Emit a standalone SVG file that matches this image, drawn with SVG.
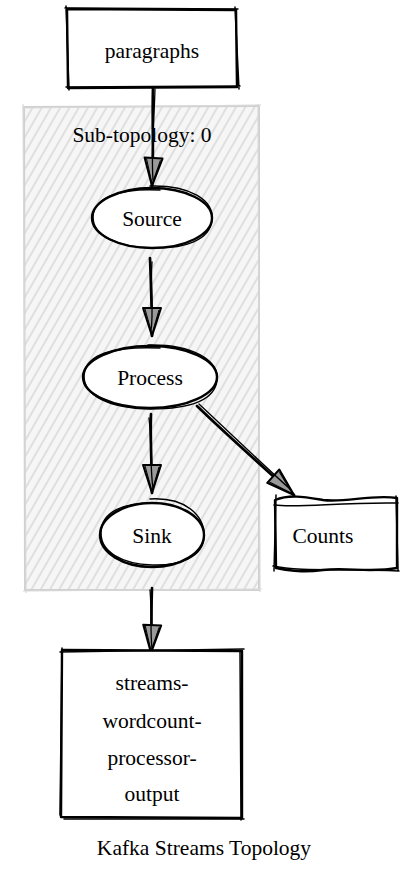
<svg xmlns="http://www.w3.org/2000/svg" width="408" height="881" viewBox="0 0 408 881">
<style>
text{font-family:"Liberation Serif","Times New Roman","DejaVu Serif",serif;font-size:21.5px;fill:#000;text-anchor:middle}
.n{fill:#fff;stroke:#000;stroke-width:2.4;stroke-linejoin:round;stroke-linecap:round}
.n2{fill:none;stroke:#000;stroke-width:1.5;stroke-linecap:round}
.e{fill:none;stroke:#000;stroke-width:2.7;stroke-linecap:round}
.e2{fill:none;stroke:#000;stroke-width:1.3;stroke-linecap:round}
.cl{fill:url(#hatch);stroke:#d0d0d0;stroke-width:2}
.cl2{fill:none;stroke:#d8d8d8;stroke-width:1.2}
</style>
<defs>
<pattern id="hatch" width="8" height="8" patternUnits="userSpaceOnUse" patternTransform="rotate(30)">
<rect width="8" height="8" fill="#f6f6f6"/>
<line x1="2" y1="0" x2="2" y2="8" stroke="#d6d6d6" stroke-width="1.4"/>
</pattern>
<marker id="arr" markerUnits="userSpaceOnUse" markerWidth="32" markerHeight="22" refX="29" refY="11" orient="auto" overflow="visible">
<path d="M1,2 L29,11 L1,20 Z" fill="#9a9a9a" stroke="#000" stroke-width="2" stroke-linejoin="round"/>
<path d="M3,4 L27,11 L2,18" fill="none" stroke="#000" stroke-width="1"/>
</marker>
</defs>
<g id="cluster_0">
<path class="cl" d="M24,107 L259,106 L259,590 L25,590 Z"/>
<path class="cl2" d="M22,108 L261,105 M258,104 L260,592 M262,589 L23,591 M26,593 L23,104"/>
<text x="142" y="142">Sub-topology: 0</text>
</g>
<g id="edges">
<path class="e" d="M153,88 C152,120 154,150 152,186" marker-end="url(#arr)"/>
<path class="e2" d="M155,89 C154,125 151,152 153,180"/>
<path class="e" d="M150,258 C151,285 152,310 152,336" marker-end="url(#arr)"/>
<path class="e2" d="M152,262 C150,290 154,312 151,330"/>
<path class="e" d="M151,414 C150,440 152,466 152,493" marker-end="url(#arr)"/>
<path class="e2" d="M149,418 C152,445 150,470 153,488"/>
<path class="e" d="M197,406 C228,436 262,466 294,495" marker-end="url(#arr)"/>
<path class="e2" d="M199,404 C230,433 258,460 290,489"/>
<path class="e" d="M152,588 C151,610 152,630 151,653" marker-end="url(#arr)"/>
<path class="e2" d="M150,590 C152,612 150,632 152,648"/>
</g>
<g id="paragraphs">
<path class="n" d="M67,9 L236,10 L237,87 L68,88 Z"/>
<path class="n2" d="M65,8 L238,9 M235,7 L239,89 M240,86 L66,87 M69,90 L66,6"/>
<text x="152" y="58">paragraphs</text>
</g>
<g id="source">
<ellipse class="n" cx="152" cy="218" rx="60" ry="30"/>
<path class="n2" d="M150,186 C190,185 214,200 212,220 C210,240 185,249 152,248 C118,247 92,236 93,216 C95,195 125,188 160,190"/>
<text x="152" y="226">Source</text>
</g>
<g id="process">
<ellipse class="n" cx="150" cy="377" rx="67" ry="31"/>
<path class="n2" d="M148,345 C192,344 219,360 217,380 C215,400 190,409 150,409 C110,408 83,396 84,375 C86,354 115,346 160,348"/>
<text x="150" y="385">Process</text>
</g>
<g id="sink">
<ellipse class="n" cx="152" cy="535" rx="52" ry="32"/>
<path class="n2" d="M150,499 C185,497 205,515 204,537 C203,557 180,566 152,565 C122,564 100,552 101,532 C102,512 122,502 158,503"/>
<text x="152" y="543">Sink</text>
</g>
<g id="counts">
<path class="n" d="M275,500 C290,494 305,497 323,500 C345,503 372,494 397,498 L397,568 C372,573 345,567 323,570 C300,573 288,570 276,568 Z"/>
<path class="n2" d="M274,505 C300,508 340,502 398,503 M276,495 L274,571 M396,496 L398,570 M273,566 C300,572 350,568 399,571"/>
<text x="323" y="543">Counts</text>
</g>
<g id="output">
<path class="n" d="M62,650 L242,651 L242,818 L61,817 Z"/>
<path class="n2" d="M60,652 L244,649 M240,650 L241,820 M244,819 L64,819 M60,815 L62,648"/>
<text x="152" y="690">streams-</text>
<text x="152" y="728">wordcount-</text>
<text x="152" y="765">processor-</text>
<text x="152" y="801">output</text>
</g>
<text x="204" y="855">Kafka Streams Topology</text>
</svg>
